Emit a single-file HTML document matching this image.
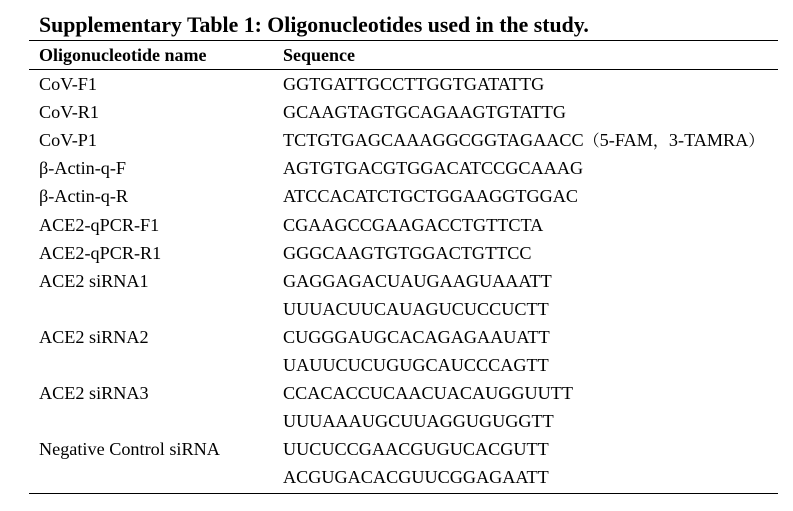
<!DOCTYPE html>
<html>
<head>
<meta charset="utf-8">
<style>
  html, body { margin:0; padding:0; background:#fff; }
  body { width:793px; height:511px; position:relative; overflow:hidden;
         font-family:"Liberation Serif","Noto Serif CJK SC","Noto Sans CJK SC",serif; color:#000; }
  .t { position:absolute; white-space:nowrap; font-size:18.2px; line-height:28px; }
  .title { position:absolute; left:39px; top:12.5px; font-weight:bold; font-size:21.8px; line-height:25px; white-space:nowrap; }
  .hdr { position:absolute; top:44px; font-weight:bold; font-size:18px; line-height:22px; white-space:nowrap; }
  .rule { position:absolute; left:29px; width:749px; height:1px; background:#000; }
  .n { left:39px; }
  .s { left:283px; }
  .cjk { font-family:"Noto Serif CJK SC","Noto Sans CJK SC",serif; font-size:16px; line-height:0; vertical-align:baseline; }
</style>
</head>
<body>
<div class="title">Supplementary Table 1: Oligonucleotides used in the study.</div>
<div class="rule" style="top:40px;"></div>
<div class="hdr" style="left:39px;">Oligonucleotide name</div>
<div class="hdr" style="left:283px;">Sequence</div>
<div class="rule" style="top:69px;"></div>

<div class="t n" style="top:70px;">CoV-F1</div>
<div class="t s" style="top:70px;">GGTGATTGCCTTGGTGATATTG</div>

<div class="t n" style="top:98.1px;">CoV-R1</div>
<div class="t s" style="top:98.1px;">GCAAGTAGTGCAGAAGTGTATTG</div>

<div class="t n" style="top:126.2px;">CoV-P1</div>
<div class="t s" style="top:126.2px; height:28px;">TCTGTGAGCAAAGGCGGTAGAACC<span class="cjk">（</span>5-FAM<span class="cjk">，</span>3-TAMRA<span class="cjk">）</span></div>

<div class="t n" style="top:154.3px;">β-Actin-q-F</div>
<div class="t s" style="top:154.3px;">AGTGTGACGTGGACATCCGCAAAG</div>

<div class="t n" style="top:182.4px;">β-Actin-q-R</div>
<div class="t s" style="top:182.4px;">ATCCACATCTGCTGGAAGGTGGAC</div>

<div class="t n" style="top:210.5px;">ACE2-qPCR-F1</div>
<div class="t s" style="top:210.5px;">CGAAGCCGAAGACCTGTTCTA</div>

<div class="t n" style="top:238.6px;">ACE2-qPCR-R1</div>
<div class="t s" style="top:238.6px;">GGGCAAGTGTGGACTGTTCC</div>

<div class="t n" style="top:266.7px;">ACE2 siRNA1</div>
<div class="t s" style="top:266.7px;">GAGGAGACUAUGAAGUAAATT</div>

<div class="t s" style="top:294.8px;">UUUACUUCAUAGUCUCCUCTT</div>

<div class="t n" style="top:322.9px;">ACE2 siRNA2</div>
<div class="t s" style="top:322.9px;">CUGGGAUGCACAGAGAAUATT</div>

<div class="t s" style="top:351px;">UAUUCUCUGUGCAUCCCAGTT</div>

<div class="t n" style="top:379.1px;">ACE2 siRNA3</div>
<div class="t s" style="top:379.1px;">CCACACCUCAACUACAUGGUUTT</div>

<div class="t s" style="top:407.2px;">UUUAAAUGCUUAGGUGUGGTT</div>

<div class="t n" style="top:435.3px;">Negative Control siRNA</div>
<div class="t s" style="top:435.3px;">UUCUCCGAACGUGUCACGUTT</div>

<div class="t s" style="top:463.4px;">ACGUGACACGUUCGGAGAATT</div>

<div class="rule" style="top:492.5px; height:1.3px;"></div>
</body>
</html>
